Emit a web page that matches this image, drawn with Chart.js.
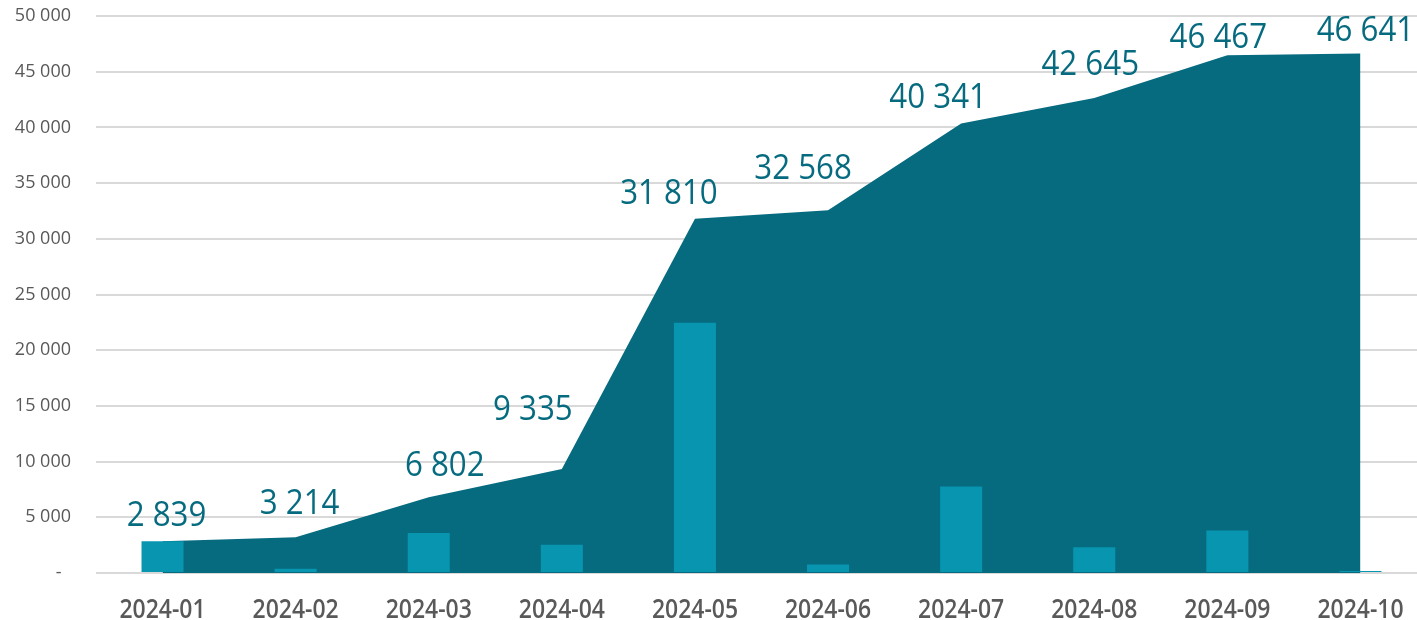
<!DOCTYPE html>
<html>
<head>
<meta charset="utf-8">
<script src="https://cdn.jsdelivr.net/npm/chart.js@4"></script>
<style>
  html, body { margin: 0; padding: 0; background: #fff; overflow: hidden; }
  #wrap { width: 1427px; height: 620px; }
</style>
</head>
<body>
<div id="wrap"><canvas id="chart"></canvas></div>
<script>
// data
const months = ['2024-01', '2024-02', '2024-03', '2024-04', '2024-05', '2024-06', '2024-07', '2024-08', '2024-09', '2024-10'];
const cumulative = [2839, 3214, 6802, 9335, 31810, 32568, 40341, 42645, 46467, 46641];
const monthly = [2839, 375, 3588, 2533, 22475, 758, 7773, 2304, 3822, 174];
const yTicks = [0, 5000, 10000, 15000, 20000, 25000, 30000, 35000, 40000, 45000, 50000];

// small hand placement of the value labels, like in the original (px from the point)
const labelNudge = [[4, -28], [4, -35], [16, -33], [-29, -61], [-26, -27], [-25, -43], [-23, -28], [-4, -35], [-9, -19], [5, -25]];

const dark = '#076b80';
const light = '#0795b0';

function fmt(v) {
	if (v == 0) return '-  ';
	return String(v).replace(/\B(?=(\d{3})+(?!\d))/g, ' ');
}

// the original text is a bit narrower than Open Sans, so squeeze it
function squeezedText(ctx, text, x, y, sx) {
	ctx.save();
	ctx.translate(x, y);
	ctx.scale(sx, 1);
	ctx.fillText(text, 0, 0);
	ctx.restore();
}

const textLayer = {
	id: 'textLayer',
	afterDatasetsDraw(chart) {
		const ctx = chart.ctx;
		const meta = chart.getDatasetMeta(1);
		ctx.save();
		ctx.textAlign = 'center';
		ctx.textBaseline = 'alphabetic';

		// value labels
		ctx.font = '500 34px "Open Sans"';
		ctx.fillStyle = dark;
		meta.data.forEach((pt, i) => {
			const n = labelNudge[i] || [0, -30];
			squeezedText(ctx, fmt(cumulative[i]), pt.x + n[0], pt.y + n[1] + 34 * 0.357, 0.92);
		});

		// month labels
		const xs = chart.scales.x;
		ctx.font = '600 27px "Open Sans"';
		ctx.fillStyle = '#595959';
		months.forEach((m, i) => {
			squeezedText(ctx, m, xs.getPixelForValue(i), chart.chartArea.bottom + 35.5 + 27 * 0.357, 0.85);
		});
		ctx.restore();
	}
};

new Chart(document.getElementById('chart'), {
	data: {
		labels: months,
		datasets: [{
			type: 'bar',
			label: 'monthly',
			data: monthly,
			backgroundColor: light,
			borderWidth: 0,
			barPercentage: 0.316,
			categoryPercentage: 1,
			order: 0
		}, {
			type: 'line',
			label: 'cumulative',
			data: cumulative,
			backgroundColor: dark,
			borderColor: dark,
			borderWidth: 0,
			pointRadius: 0,
			tension: 0,
			fill: 'origin',
			order: 1
		}]
	},
	options: {
		responsive: true,
		maintainAspectRatio: false,
		animation: false,
		layout: { padding: { top: 16, right: 0, left: 0, bottom: 39 } },
		plugins: {
			legend: { display: false },
			tooltip: { enabled: false }
		},
		scales: {
			x: {
				offset: true,
				grid: { display: false },
				border: { display: false },
				ticks: { display: false }
			},
			y: {
				min: 0,
				max: 50000,
				afterFit(scale) { scale.width = 96; },
				afterBuildTicks(scale) { scale.ticks = yTicks.map(v => ({ value: v })); },
				grid: { color: '#d9d9d9', lineWidth: 2, drawTicks: true, tickLength: 25, tickColor: 'rgba(0,0,0,0)' },
				border: { display: false },
				ticks: {
					color: '#595959',
					font: { family: 'Open Sans', size: 18 },
					padding: 0,
					callback: v => fmt(v)
				}
			}
		}
	},
	plugins: [textLayer]
});
</script>
</body>
</html>
